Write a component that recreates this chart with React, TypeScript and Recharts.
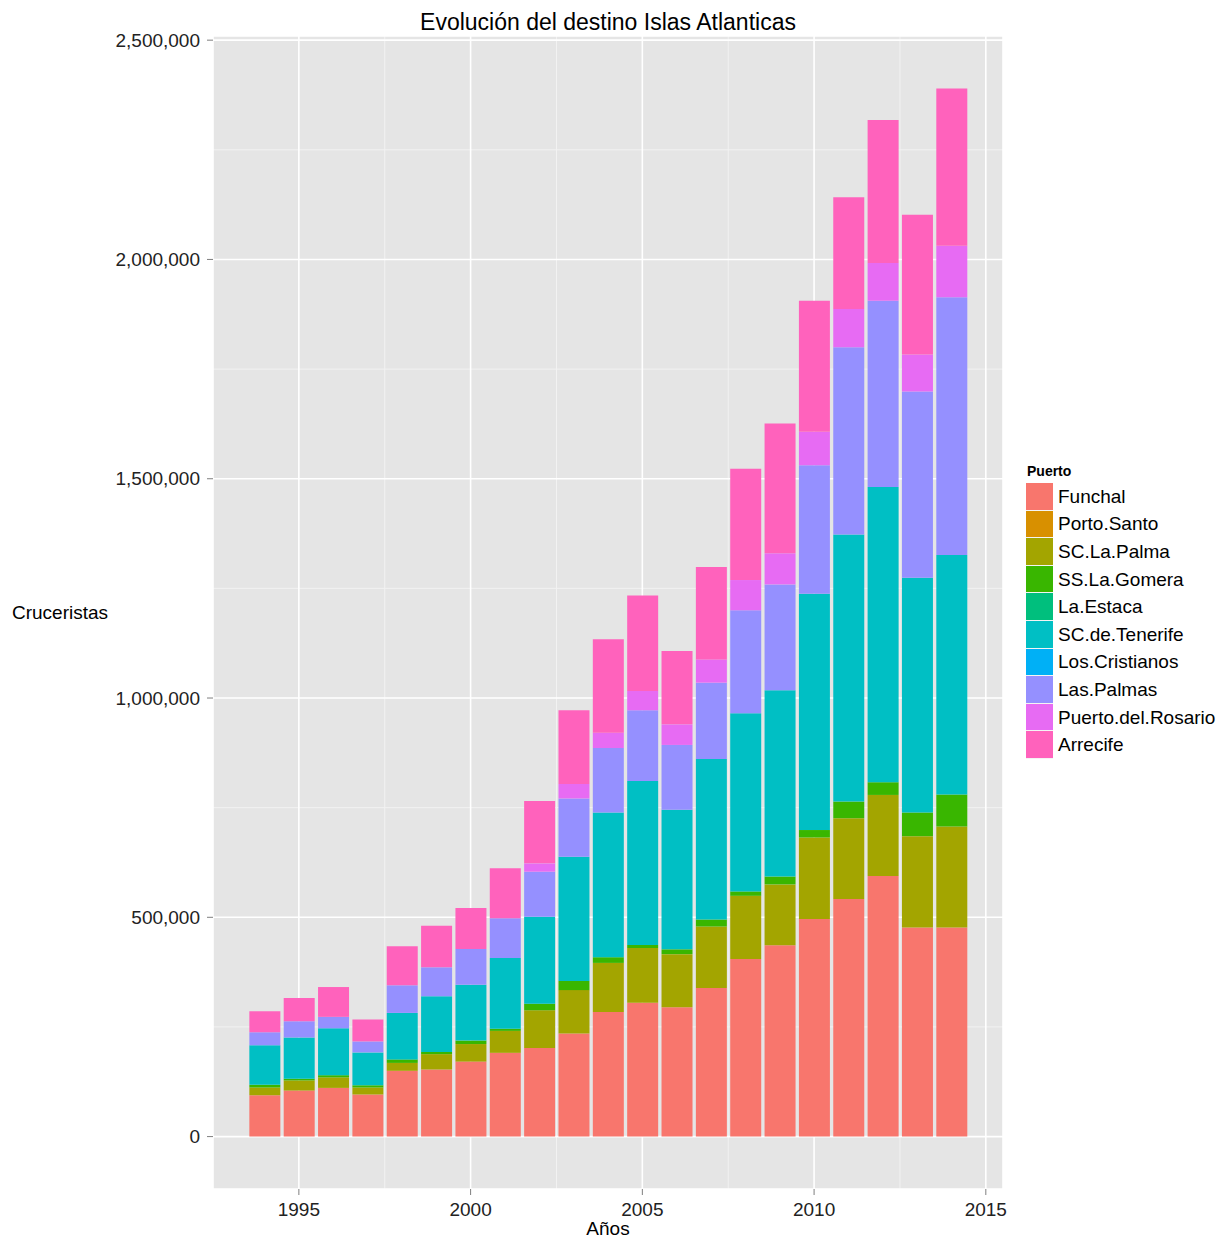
import { Bar, BarChart, CartesianGrid, XAxis, YAxis } from "recharts";

const years = [
  1994, 1995, 1996, 1997, 1998, 1999, 2000, 2001, 2002, 2003, 2004,
  2005, 2006, 2007, 2008, 2009, 2010, 2011, 2012, 2013, 2014,
];

// cruise passengers per port
const funchal = [
  94000, 105000, 111000, 96000, 150000, 153000, 171000, 191000, 202000, 235000, 284000,
  305000, 295000, 339000, 405000, 436000, 496000, 542000, 594000, 477000, 477000,
];
const portoSanto = [
  0, 0, 0, 0, 0, 0, 0, 0, 0, 0, 0, 0, 0, 0, 0, 0, 0, 0, 0, 0, 0,
];
const scLaPalma = [
  18000, 23000, 24000, 16000, 18000, 35000, 40000, 50000, 86000, 99000, 112000,
  125000, 121000, 140000, 144000, 139000, 186000, 184000, 185000, 208000, 230000,
];
const ssLaGomera = [
  6000, 4000, 5000, 5000, 8000, 5000, 8000, 5000, 15000, 21000, 13000,
  7000, 11000, 16000, 10000, 18000, 17000, 38000, 29000, 54000, 73000,
];
const laEstaca = [
  0, 0, 0, 0, 0, 0, 0, 0, 0, 0, 0, 0, 0, 0, 0, 0, 0, 0, 0, 0, 0,
];
const scTenerife = [
  90000, 94000, 107000, 75000, 106000, 127000, 127000, 161000, 198000, 283000, 330000,
  374000, 318000, 366000, 406000, 425000, 539000, 609000, 673000, 535000, 546000,
];
const losCristianos = [
  0, 0, 0, 0, 0, 0, 0, 0, 0, 0, 0, 0, 0, 0, 0, 0, 0, 0, 0, 0, 0,
];
const lasPalmas = [
  30000, 37000, 26000, 25000, 63000, 66000, 82000, 91000, 103000, 133000, 147000,
  161000, 148000, 174000, 235000, 241000, 293000, 427000, 425000, 425000, 588000,
];
const puertoRosario = [
  0, 0, 0, 0, 0, 0, 0, 0, 19000, 33000, 35000,
  44000, 47000, 53000, 69000, 71000, 76000, 87000, 86000, 84000, 117000,
];
const arrecife = [
  48000, 53000, 68000, 50000, 89000, 95000, 93000, 114000, 142000, 168000, 213000,
  218000, 167000, 211000, 254000, 296000, 299000, 255000, 326000, 319000, 359000,
];

const ports = [
  { key: "Funchal", values: funchal, color: "#F8766D" },
  { key: "Porto.Santo", values: portoSanto, color: "#D89000" },
  { key: "SC.La.Palma", values: scLaPalma, color: "#A3A500" },
  { key: "SS.La.Gomera", values: ssLaGomera, color: "#39B600" },
  { key: "La.Estaca", values: laEstaca, color: "#00BF7D" },
  { key: "SC.de.Tenerife", values: scTenerife, color: "#00BFC4" },
  { key: "Los.Cristianos", values: losCristianos, color: "#00B0F6" },
  { key: "Las.Palmas", values: lasPalmas, color: "#9590FF" },
  { key: "Puerto.del.Rosario", values: puertoRosario, color: "#E76BF3" },
  { key: "Arrecife", values: arrecife, color: "#FF62BC" },
];

const xTicks = [1995, 2000, 2005, 2010, 2015];
const xMinor = [1997.5, 2002.5, 2007.5, 2012.5];
const yTicks = [0, 500000, 1000000, 1500000, 2000000, 2500000];
const yMinor = [250000, 750000, 1250000, 1750000, 2250000];

const data = years.map((year, i) => {
  const row: Record<string, number> = { year };
  ports.forEach((p) => {
    row[p.key] = p.values[i];
  });
  return row;
});

const font = '"Liberation Sans", Arial, Helvetica, sans-serif';

export default function App() {
  return (
    <div
      style={{
        position: "absolute",
        left: 0,
        top: 0,
        width: 1225,
        height: 1239,
        background: "#fff",
        fontFamily: font,
        color: "#000",
      }}
    >
      <BarChart
        width={1225}
        height={1239}
        data={data}
        margin={{ top: 36, right: 222, bottom: 0, left: 0 }}
      >
        <CartesianGrid
          fill="#E5E5E5"
          stroke="#F2F2F2"
          strokeWidth={1}
          horizontalValues={yMinor}
          verticalValues={xMinor}
        />
        <CartesianGrid stroke="#FFFFFF" strokeWidth={1.6} />
        <XAxis
          type="number"
          dataKey="year"
          domain={[1992.5, 2015.5]}
          ticks={xTicks}
          allowDataOverflow
          height={50}
          axisLine={false}
          tickSize={6}
          tickMargin={8}
          tickLine={{ stroke: "#7F7F7F" }}
          tick={{ fontSize: 19, fill: "#222", fontFamily: font }}
        />
        <YAxis
          type="number"
          domain={[-119500, 2509500]}
          ticks={yTicks}
          allowDataOverflow
          width={213}
          axisLine={false}
          tickSize={6}
          tickMargin={7}
          tickLine={{ stroke: "#7F7F7F" }}
          tick={{ fontSize: 19, fill: "#222", fontFamily: font }}
          tickFormatter={(v: number) => v.toLocaleString("en-US")}
        />
        {ports.map((p) => (
          <Bar
            key={p.key}
            dataKey={p.key}
            stackId="a"
            fill={p.color}
            barSize={31}
            isAnimationActive={false}
          />
        ))}
      </BarChart>

      <div
        style={{
          position: "absolute",
          left: 208,
          width: 800,
          top: 9,
          textAlign: "center",
          fontSize: 23,
          lineHeight: "26px",
        }}
      >
        Evolución del destino Islas Atlanticas
      </div>
      <div style={{ position: "absolute", left: 12, top: 602, fontSize: 19, lineHeight: "22px" }}>
        Cruceristas
      </div>
      <div
        style={{
          position: "absolute",
          left: 508,
          width: 200,
          top: 1218,
          textAlign: "center",
          fontSize: 19,
          lineHeight: "22px",
        }}
      >
        Años
      </div>

      <div style={{ position: "absolute", left: 1027, top: 463 }}>
        <div style={{ fontSize: 14, fontWeight: "bold", lineHeight: "17px", marginBottom: 3 }}>Puerto</div>
        {ports.map((p) => (
          <div key={p.key} style={{ display: "flex", alignItems: "center", height: 27.6 }}>
            <div
              style={{
                width: 27,
                height: 27.6,
                boxSizing: "border-box",
                background: p.color,
                borderBottom: "1px solid #f4f4f4",
                marginLeft: -1,
              }}
            />
            <div style={{ marginLeft: 5, fontSize: 19, lineHeight: "22px" }}>{p.key}</div>
          </div>
        ))}
      </div>
    </div>
  );
}
